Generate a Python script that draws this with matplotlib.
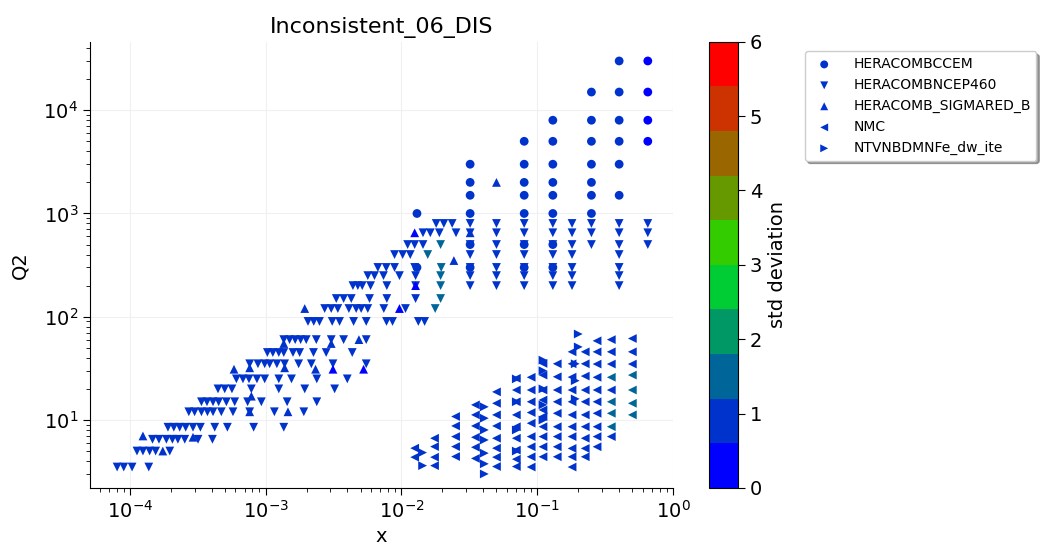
import matplotlib
matplotlib.use("Agg")
import matplotlib.pyplot as plt
from matplotlib.colors import ListedColormap, Normalize
from matplotlib.cm import ScalarMappable

# colour bins for the std deviation (0..6, 10 bins)
bin_colors = ['#0000ff', '#0033cc', '#006699', '#009966', '#00cc33',
              '#33cc00', '#669900', '#996600', '#cc3300', '#ff0000']
std_min, std_max = 0, 6

# HERACOMBCCEM : x column -> list of Q2
ccem_x = [0.013, 0.032, 0.08, 0.13, 0.25, 0.4, 0.65]
ccem_q2 = [[300, 1000],
           [300, 500, 1000, 1500, 2000, 3000],
           [300, 500, 1000, 1500, 2000, 3000, 5000],
           [300, 500, 1000, 1500, 2000, 3000, 5000, 8000],
           [1000, 1500, 2000, 3000, 5000, 8000, 15000],
           [1500, 3000, 5000, 8000, 15000, 30000],
           [5000, 8000, 15000, 30000]]
ccem_std = [0.9, 0.9, 0.9, 0.9, 0.9, 0.9, 0.3]

# HERACOMBNCEP460, low x band : Q2 row -> list of x
ncep_q2 = [3.5, 5, 6.5, 8.5, 12, 15, 20, 25, 35, 45, 60, 90, 120, 150, 200,
           250, 300, 400, 500, 650, 800]
ncep_x = [
    [0.807e-4, 0.903e-4, 1.04e-4, 1.38e-4],
    [1.13e-4, 1.25e-4, 1.40e-4, 1.55e-4, 1.97e-4],
    [1.47e-4, 1.64e-4, 1.86e-4, 2.06e-4, 2.26e-4, 2.54e-4, 3.18e-4, 4.06e-4],
    [1.91e-4, 2.11e-4, 2.33e-4, 2.58e-4, 2.92e-4, 3.31e-4, 4.22e-4, 5.23e-4,
     8.16e-4, 13.6e-4],
    [2.72e-4, 3.0e-4, 3.37e-4, 3.73e-4, 4.10e-4, 4.72e-4, 5.75e-4, 7.63e-4,
     11.6e-4, 19.1e-4],
    [3.37e-4, 3.70e-4, 4.10e-4, 4.51e-4, 5.14e-4, 5.92e-4, 7.37e-4, 9.3e-4,
     14.4e-4, 23.8e-4],
    [4.46e-4, 5.0e-4, 5.65e-4, 7.85e-4, 12.5e-4, 19.4e-4, 32.2e-4],
    [6.09e-4, 6.81e-4, 7.54e-4, 8.63e-4, 9.84e-4, 12.5e-4, 15.5e-4, 23.8e-4,
     39.9e-4],
    [7.63e-4, 8.78e-4, 9.84e-4, 10.7e-4, 12.1e-4, 13.8e-4, 17.5e-4, 21.7e-4,
     31.3e-4, 55e-4],
    [10.3e-4, 11.3e-4, 12.5e-4, 13.6e-4, 15.9e-4, 17.8e-4, 22.5e-4, 27.9e-4,
     43.4e-4],
    [13.6e-4, 15.0e-4, 16.5e-4, 18.1e-4, 19.9e-4, 23.6e-4, 30.4e-4, 37.5e-4,
     55e-4],
    [20.5e-4, 22.6e-4, 24.9e-4, 30.9e-4, 35.0e-4, 44.4e-4, 55e-4, 77.6e-4,
     85.9e-4, 133e-4, 148e-4],
    [27.2e-4, 30.4e-4, 34.0e-4, 41e-4, 46.4e-4, 50.5e-4, 56.5e-4, 74.1e-4,
     107e-4],
    [33.1e-4, 37.5e-4, 42.7e-4, 58.2e-4, 78e-4, 127e-4],
    [43.9e-4, 47.7e-4, 51.4e-4, 59.2e-4, 78e-4, 127e-4],
    [56.5e-4, 63.3e-4, 73.7e-4, 96.6e-4, 127e-4],
    [67e-4, 77.2e-4, 88.9e-4, 125e-4],
    [88.9e-4, 102e-4, 116e-4],
    [111e-4, 125e-4, 144e-4],
    [144e-4, 163e-4, 190e-4, 252e-4],
    [180e-4, 205e-4, 236e-4]]
# HERACOMBNCEP460, high x columns : x column -> list of Q2
ncep_hx = [0.032, 0.05, 0.08, 0.13, 0.18, 0.25, 0.4, 0.65]
ncep_hq2 = [[200, 250, 300, 400, 500, 650, 800],
            [200, 250, 300, 400, 500, 650, 800],
            [200, 250, 300, 400, 500, 650, 800],
            [200, 250, 300, 400, 500, 650, 800],
            [200, 250, 300, 400, 500, 650, 800],
            [500, 650, 800],
            [200, 250, 300, 400, 500, 650, 800],
            [500, 650, 800]]
# HERACOMBNCEP460 points with larger deviation
ncep_teal_x = [0.0177, 0.0194, 0.0194, 0.0194, 0.0196, 0.0156, 0.0194]
ncep_teal_q2 = [120, 150, 200, 250, 300, 400, 500]

# HERACOMB_SIGMARED_B
sigb_x = [1.25e-4, 1.75e-4, 2.92e-4, 5.85e-4, 7.63e-4, 7.85e-4, 7.63e-4,
          1.38e-3, 1.46e-3, 1.36e-3, 3.04e-3, 2.33e-3, 4.86e-3, 1.94e-3,
          0.0243, 0.032, 0.05]
sigb_q2 = [7, 5, 6.8, 31, 12, 17, 32, 32, 12, 55, 55, 31, 60, 120, 350, 650,
           2000]
sigb_bright_x = [3.13e-3, 5.26e-3, 9.66e-3, 0.0127, 0.0125]
sigb_bright_q2 = [31, 31, 120, 200, 650]

# NMC : x column -> list of Q2
nmc_x = [0.0125, 0.0175, 0.025, 0.035, 0.05, 0.07, 0.09, 0.11, 0.14, 0.18,
         0.225, 0.275, 0.35, 0.5]
nmc_q2 = [[5.33, 4.36],
          [6.65, 5.52, 4.36, 3.61],
          [10.8, 8.75, 6.9, 5.52, 4.42],
          [14.0, 11.2, 8.75, 6.8, 5.44, 4.24],
          [18.7, 14.5, 11.2, 8.75, 6.65, 5.33, 4.36, 3.54],
          [25.3, 19.5, 15, 11.2, 8.6, 6.65, 5.1, 4.17, 3.54],
          [25.9, 19.5, 15.0, 11.8, 9.3, 6.9, 5.5, 4.4, 3.5],
          [35.3, 27.2, 19.5, 15.6, 12.5, 10.8, 8.6, 6.9, 5.5, 4.4],
          [35, 26.2, 19.5, 15, 11.6, 8.6, 6.9, 5.5, 4.4],
          [45.7, 35, 26, 19.5, 15, 11.2, 8.6, 6.9, 5.3, 4.4, 3.5],
          [45.7, 35, 26.6, 19.5, 15, 11.2, 8.6, 6.65, 5.3, 4.4],
          [58.4, 45.7, 34.8, 25.9, 19.5, 15, 11.6, 8.6, 6.9, 5.5],
          [60, 45.7, 34.8, 19.5, 6.9],
          [61.5, 45.7, 34.8]]
nmc_teal_x = [0.35, 0.35, 0.35, 0.35, 0.5, 0.5, 0.5, 0.5]
nmc_teal_q2 = [25.9, 15, 11.6, 8.6, 27.2, 19.5, 14.5, 11.2]

# NTVNBDMNFe_dw_ite
ntv_x = [0.0143, 0.0143, 0.0407, 0.0407, 0.0407, 0.0407, 0.0407, 0.0407,
         0.0407, 0.07, 0.07, 0.07, 0.07, 0.11, 0.11, 0.11, 0.11, 0.11,
         0.2, 0.2, 0.19, 0.19, 0.19]
ntv_q2 = [4.83, 3.61, 13.4, 10.4, 8.0, 6.4, 4.77, 3.76, 3.0, 25, 15, 8, 5,
          38, 30, 20, 14, 10, 68, 51, 35, 24, 16]

'''
collect the points of every data set
'''
pts = {}
xs, ys, cs = [], [], []
for x, qs, s in zip(ccem_x, ccem_q2, ccem_std):
    for q in qs:
        xs.append(x); ys.append(q); cs.append(s)
pts['HERACOMBCCEM'] = ('o', xs, ys, cs)

xs, ys, cs = [], [], []
for q, row in zip(ncep_q2, ncep_x):
    for x in row:
        xs.append(x); ys.append(q); cs.append(0.9)
for x, qs in zip(ncep_hx, ncep_hq2):
    for q in qs:
        xs.append(x); ys.append(q); cs.append(0.9)
xs += ncep_teal_x; ys += ncep_teal_q2; cs += [1.5] * len(ncep_teal_x)
pts['HERACOMBNCEP460'] = ('v', xs, ys, cs)

xs = sigb_x + sigb_bright_x
ys = sigb_q2 + sigb_bright_q2
cs = [0.9] * len(sigb_x) + [0.3] * len(sigb_bright_x)
pts['HERACOMB_SIGMARED_B'] = ('^', xs, ys, cs)

xs, ys, cs = [], [], []
for x, qs in zip(nmc_x, nmc_q2):
    for q in qs:
        xs.append(x); ys.append(q); cs.append(0.9)
xs += nmc_teal_x; ys += nmc_teal_q2; cs += [1.5] * len(nmc_teal_x)
pts['NMC'] = ('<', xs, ys, cs)

pts['NTVNBDMNFe_dw_ite'] = ('>', ntv_x, ntv_q2, [0.9] * len(ntv_x))

'''
plot
'''
cmap = ListedColormap(bin_colors)
norm = Normalize(vmin=std_min, vmax=std_max)

fig = plt.figure(figsize=(10.47, 5.5), dpi=100)
ax = fig.add_axes([0.086, 0.113, 0.557, 0.811])
cax = fig.add_axes([0.677, 0.113, 0.028, 0.811])

for name, (m, xs, ys, cs) in pts.items():
    ax.scatter(xs, ys, c=cs, cmap=cmap, norm=norm, marker=m, s=40,
               linewidths=0, label=name)

ax.set_xscale('log')
ax.set_yscale('log')
ax.set_xlim(5.1e-5, 1.0)
ax.set_ylim(2.2, 4.6e4)
ax.grid(True, which='major', color='#f0f0f0', linewidth=0.8)
ax.set_axisbelow(True)
ax.spines['top'].set_visible(False)
ax.spines['right'].set_visible(False)
ax.tick_params(which='major', labelsize=14, length=5)
ax.tick_params(which='minor', length=3)
ax.set_xlabel('x', fontsize=14)
ax.set_ylabel('Q2', fontsize=14, labelpad=10)
ax.set_title('Inconsistent_06_DIS', fontsize=16)

cb = fig.colorbar(ScalarMappable(norm=norm, cmap=cmap), cax=cax,
                  ticks=range(0, 7))
cb.ax.tick_params(labelsize=14, length=5)
cb.set_label('std deviation', fontsize=14)

fig.legend(loc='upper left', bbox_to_anchor=(0.762, 0.919), fontsize=10,
           shadow=True, markerscale=0.9, handletextpad=1.1)

fig.savefig('out.png', dpi=100)
